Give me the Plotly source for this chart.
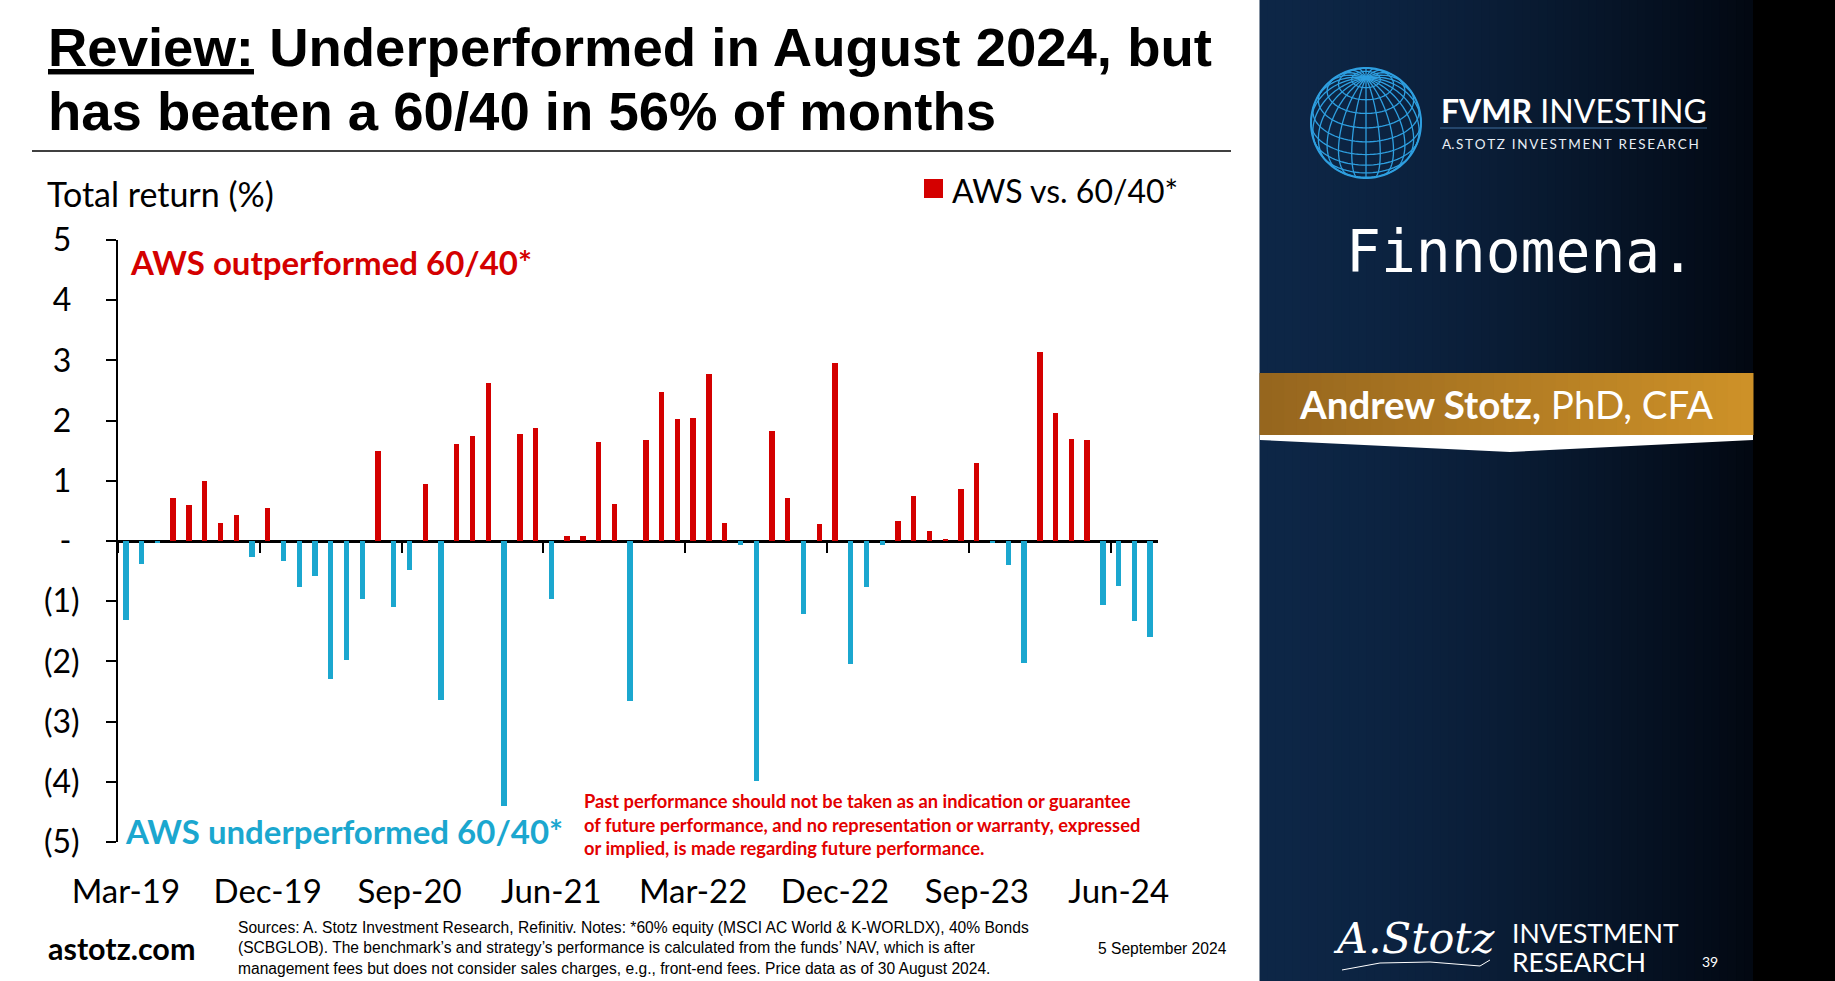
import math
import plotly.graph_objects as go

# ---------------- data ----------------
months = [
    "Mar-19", "Apr-19", "May-19", "Jun-19", "Jul-19", "Aug-19", "Sep-19", "Oct-19", "Nov-19", "Dec-19",
    "Jan-20", "Feb-20", "Mar-20", "Apr-20", "May-20", "Jun-20", "Jul-20", "Aug-20", "Sep-20", "Oct-20",
    "Nov-20", "Dec-20", "Jan-21", "Feb-21", "Mar-21", "Apr-21", "May-21", "Jun-21", "Jul-21", "Aug-21",
    "Sep-21", "Oct-21", "Nov-21", "Dec-21", "Jan-22", "Feb-22", "Mar-22", "Apr-22", "May-22", "Jun-22",
    "Jul-22", "Aug-22", "Sep-22", "Oct-22", "Nov-22", "Dec-22", "Jan-23", "Feb-23", "Mar-23", "Apr-23",
    "May-23", "Jun-23", "Jul-23", "Aug-23", "Sep-23", "Oct-23", "Nov-23", "Dec-23", "Jan-24", "Feb-24",
    "Mar-24", "Apr-24", "May-24", "Jun-24", "Jul-24", "Aug-24",
]
aws_vs_6040 = [
    -1.31, -0.39, -0.02, 0.72, 0.59, 1.00, 0.30, 0.43, -0.27, 0.54,
    -0.34, -0.76, -0.58, -2.30, -1.97, -0.97, 1.50, -1.10, -0.48, 0.94,
    -2.64, 1.61, 1.75, 2.63, -4.40, 1.77, 1.87, -0.97, 0.09, 0.09,
    1.64, 0.61, -2.65, 1.67, 2.48, 2.03, 2.04, 2.78, 0.30, -0.07,
    -3.99, 1.82, 0.72, -1.21, 0.28, 2.96, -2.04, -0.76, -0.06, 0.33,
    0.74, 0.16, 0.03, 0.86, 1.29, -0.03, -0.40, -2.02, 3.14, 2.13,
    1.69, 1.68, -1.07, -0.75, -1.33, -1.59,
]
x_tick_labels = ["Mar-19", "Dec-19", "Sep-20", "Jun-21", "Mar-22", "Dec-22", "Sep-23", "Jun-24"]
y_tick_values = [5, 4, 3, 2, 1, 0, -1, -2, -3, -4, -5]
y_tick_labels = ["5\u00a0", "4\u00a0", "3\u00a0", "2\u00a0", "1\u00a0", "-\u00a0",
                 "(1)", "(2)", "(3)", "(4)", "(5)"]

RED = "#D40000"
BLUE = "#1BA7CF"
DISC_RED = "#E30000"

# ---------------- layout geometry ----------------
W, H = 1835, 981
ML, MR, MT, MB = 118, 677, 240, 139
PW, PH = W - ML - MR, H - MT - MB

def px(x):
    return (x - ML) / PW

def py(y):
    return (H - MB - y) / PH

LATO = "Lato, 'Open Sans', sans-serif"
ARIAL = "'Liberation Sans', Arial, sans-serif"

annotations = []
shapes = []

def ann(text, x, y, size, color="black", family=LATO, xanchor="left", yanchor="middle"):
    f = dict(size=size, color=color, family=family)
    annotations.append(dict(text=text, x=px(x), y=py(y), xref="paper", yref="paper",
                            xanchor=xanchor, yanchor=yanchor, showarrow=False, font=f))

def rect(x0, y0, x1, y1, color):
    shapes.append(dict(type="rect", xref="paper", yref="paper",
                       x0=px(x0), x1=px(x1), y0=py(y1), y1=py(y0),
                       fillcolor=color, line=dict(width=0), layer="above"))

def line(x0, y0, x1, y1, color, width):
    shapes.append(dict(type="line", xref="paper", yref="paper",
                       x0=px(x0), x1=px(x1), y0=py(y0), y1=py(y1),
                       line=dict(color=color, width=width), layer="above"))

def path(points, color, width, fill=None, close=False):
    d = "M " + " L ".join(f"{px(a):.5f},{py(b):.5f}" for a, b in points)
    if close:
        d += " Z"
    s = dict(type="path", xref="paper", yref="paper", path=d,
             line=dict(color=color, width=width), layer="above")
    if fill:
        s["fillcolor"] = fill
    shapes.append(s)

def lerp(c0, c1, t):
    return "rgb(%d,%d,%d)" % tuple(round(a + (b - a) * t) for a, b in zip(c0, c1))

# ---------------- figure ----------------
bar_colors = [RED if v >= 0 else BLUE for v in aws_vs_6040]

fig = go.Figure()
fig.add_trace(go.Bar(x=months, y=aws_vs_6040, marker=dict(color=bar_colors, line=dict(width=0)),
                     width=0.34, name="AWS vs. 60/40*", showlegend=False))
fig.add_trace(go.Scatter(x=[None], y=[None], xaxis="x2", yaxis="y", showlegend=False, hoverinfo="skip"))

# Title
ann("<b><u>Review:</u> Underperformed in August 2024, but</b>", 46, 48, 54.5, family=ARIAL)
ann("<b>has beaten a 60/40 in 56% of months</b>", 46, 111, 54.5, family=ARIAL)
line(32, 151, 1231, 151, "black", 1.5)

# Chart texts
ann("Total return (%)", 45, 193, 34)
rect(924, 179, 943, 198, RED)
ann("AWS vs. 60/40*", 950, 190, 32)
ann("<b>AWS outperformed 60/40*</b>", 128, 262, 33, color=RED)
ann("<b>AWS underperformed 60/40*</b>", 123, 831, 33, color=BLUE)
disc = ["Past performance should not be taken as an indication or guarantee",
        "of future performance, and no representation or warranty, expressed",
        "or implied, is made regarding future performance."]
for i, t in enumerate(disc):
    ann("<b>" + t + "</b>", 582, 801 + 23.5 * i, 18.3, color=DISC_RED)

# Footer
foot = ["Sources: A. Stotz Investment Research, Refinitiv. Notes: *60% equity (MSCI AC World & K-WORLDX), 40% Bonds",
        "(SCBGLOB). The benchmark\u2019s and strategy\u2019s performance is calculated from the funds\u2019 NAV, which is after",
        "management fees but does not consider sales charges, e.g., front-end fees. Price data as of 30 August 2024."]
for i, t in enumerate(foot):
    ann(t, 236, 927 + 20.5 * i, 15.6, family=ARIAL)
ann("<b>astotz.com</b>", 46, 948, 30.5)
ann("5 September 2024", 1096, 948, 15.6, family=ARIAL)

# ---------------- right panel ----------------
PX0, PX1 = 1260, 1753
n = 60
c_left, c_right = (13, 38, 70), (2, 8, 18)
for i in range(n):
    t = i / (n - 1)
    rect(PX0 + (PX1 - PX0) * i / n - 0.5, 0, PX0 + (PX1 - PX0) * (i + 1) / n + 0.5, H,
         lerp(c_left, c_right, t ** 1.6))
rect(PX1, 0, W, H, "black")

# Globe
gcx, gcy, gr = 1366, 123, 55
tilt = math.radians(35)
GLOBE = "#2E9FE0"

def proj(lat, lon):
    X = math.cos(lat) * math.sin(lon)
    Y = math.sin(lat)
    Z = math.cos(lat) * math.cos(lon)
    Yp = Y * math.cos(tilt) - Z * math.sin(tilt)
    Zp = Y * math.sin(tilt) + Z * math.cos(tilt)
    return gcx + gr * X, gcy - gr * Yp, Zp

def draw_curve(pts):
    seg = []
    for (x, y, z) in pts:
        if z >= 0:
            seg.append((x, y))
        else:
            if len(seg) > 1:
                path(seg, GLOBE, 1.3)
            seg = []
    if len(seg) > 1:
        path(seg, GLOBE, 1.3)

for k in range(24):
    lon = math.radians(k * 15)
    draw_curve([proj(math.radians(-90 + j * 3), lon) for j in range(61)])
for lat_d in range(-75, 90, 15):
    lat = math.radians(lat_d)
    draw_curve([proj(lat, math.radians(j * 4)) for j in range(91)])
path([(gcx + gr * math.cos(math.radians(a)), gcy + gr * math.sin(math.radians(a))) for a in range(0, 361, 4)],
     GLOBE, 2)

ann("<b>FVMR</b> INVESTING", 1439, 110, 32, color="white")
line(1440, 128, 1707, 128, "#3F6E9E", 1)
ann("A.\u2009S\u2009T\u2009O\u2009T\u2009Z\u2002I\u2009N\u2009V\u2009E\u2009S\u2009T\u2009M\u2009E\u2009N\u2009T\u2002R\u2009E\u2009S\u2009E\u2009A\u2009R\u2009C\u2009H",
    1440, 144, 13.5, color="#E8EEF5")
ann("Finnomena.", 1344, 252, 58, color="white", family="'DejaVu Sans Mono', monospace")

# Gold banner
nb = 40
g_left, g_right = (150, 102, 30), (205, 145, 40)
for i in range(nb):
    t = i / (nb - 1)
    rect(PX0 + (PX1 - PX0) * i / nb - 0.5, 373, PX0 + (PX1 - PX0) * (i + 1) / nb + 0.5, 435,
         lerp(g_left, g_right, t))
path([(PX0, 435), (PX1, 435), (PX1, 440), (1510, 452), (PX0, 440)], "white", 0, fill="white", close=True)
ann("<b>Andrew Stotz,</b> PhD, CFA", 1506, 404, 38.5, color="white", xanchor="center")

# Bottom logo
ann("<i>A.Stotz</i>", 1414, 938, 43, color="white", family="'DejaVu Serif', serif", xanchor="center")
path([(1342, 970), (1380, 963), (1430, 962), (1480, 966), (1490, 960)], "white", 1)
ann("INVESTMENT", 1510, 933, 26.5, color="white")
ann("RESEARCH", 1510, 962, 26.5, color="white")
ann("39", 1700, 961, 14, color="white")

fig.update_layout(
    width=W, height=H,
    margin=dict(l=ML, r=MR, t=MT, b=MB, pad=0),
    paper_bgcolor="white", plot_bgcolor="white",
    showlegend=False,
    bargap=0,
    annotations=annotations,
    shapes=shapes,
    xaxis=dict(type="category", range=[-0.5, len(months) - 0.5], tickmode="array",
               tickvals=x_tick_labels, ticktext=x_tick_labels, ticks="", showline=False,
               showgrid=False, zeroline=False, ticklabelstandoff=27,
               tickfont=dict(family=LATO, size=33, color="black")),
    xaxis2=dict(overlaying="x", anchor="free", position=0.5, range=[-0.5, len(months) - 0.5],
                tickmode="linear", tick0=8.5, dtick=9, ticks="outside", ticklen=11, tickwidth=2,
                tickcolor="black", showticklabels=False, showgrid=False, zeroline=False, showline=False),
    yaxis=dict(range=[-5, 5], tickmode="array", tickvals=y_tick_values, ticktext=y_tick_labels,
               ticks="outside", ticklen=10, tickwidth=1.5, tickcolor="black",
               showline=True, linecolor="black", linewidth=2, showgrid=False,
               zeroline=True, zerolinecolor="black", zerolinewidth=2.5,
               ticklabelstandoff=20, tickfont=dict(family=LATO, size=32, color="black")),
)

fig.write_html("out.html", config={"displayModeBar": False},
               post_script="document.body.style.margin='0px';document.body.style.overflow='hidden';")
